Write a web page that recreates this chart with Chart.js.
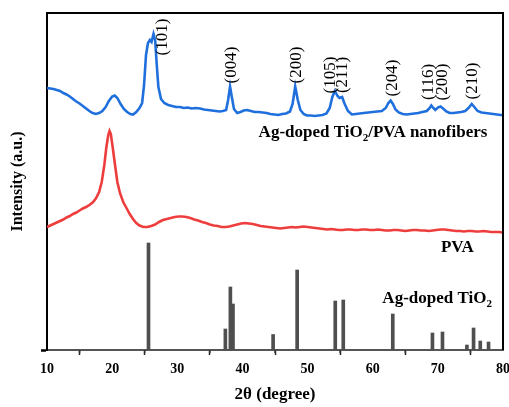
<!DOCTYPE html>
<html>
<head>
<meta charset="utf-8">
<script src="https://cdn.jsdelivr.net/npm/chart.js@4.4.1/dist/chart.umd.min.js"></script>
<style>
  html, body { margin: 0; padding: 0; background: #fff; }
  canvas { display: block; }
</style>
</head>
<body>
<canvas id="xrd" width="509" height="407"></canvas>
<script>
// XRD patterns (2θ in degrees, intensity in stacked arbitrary units)
const compositeTheta = [
  10.0, 10.5, 11.0, 11.5, 12.0, 12.5, 13.0, 13.5, 14.0, 14.5, 15.0, 15.5, 16.0, 16.5, 17.0, 17.5,
  18.0, 18.5, 19.0, 19.5, 20.0, 20.4, 20.8, 21.3, 21.8, 22.3, 22.8, 23.2, 23.7, 24.2, 24.6, 24.9,
  25.2, 25.5, 25.8, 26.05, 26.35, 26.6, 26.85, 27.1, 27.5, 28.0, 28.6, 29.2, 29.8, 30.4, 31.0, 31.6,
  32.2, 32.8, 33.5, 34.1, 34.7, 35.3, 35.9, 36.5, 37.0, 37.5, 37.8, 38.1, 38.4, 38.7, 39.2, 39.7,
  40.2, 40.7, 41.3, 41.9, 42.5, 43.1, 43.7, 44.3, 44.9, 45.5, 46.1, 46.7, 47.3, 47.7, 48.1, 48.5,
  48.9, 49.4, 49.9, 50.5, 51.1, 51.7, 52.3, 52.9, 53.4, 53.8, 54.2, 54.6, 54.9, 55.3, 55.7, 56.2,
  56.8, 57.4, 58.0, 58.6, 59.3, 60.0, 60.7, 61.4, 62.0, 62.4, 62.75, 63.1, 63.5, 64.0, 64.6, 65.2,
  65.8, 66.4, 67.0, 67.6, 68.3, 68.75, 69.0, 69.3, 69.6, 70.0, 70.4, 70.8, 71.3, 71.8, 72.4, 73.0,
  73.6, 74.2, 74.7, 75.2, 75.6, 76.1, 76.7, 77.3, 77.9, 78.5, 79.1, 79.6, 80.0
];
const compositeIntensity = [
  262, 261.5, 261, 260, 259, 257, 255.5, 253.5, 251, 248.5, 246.5, 244, 241.5, 239, 237, 236,
  237, 239, 243, 249, 253.5, 254.5, 252, 246, 241, 238, 236, 235.5, 238, 242, 247, 265,
  295, 307, 310, 308, 316, 310, 285, 263, 251, 247, 245, 244, 243, 243, 242, 242.5,
  241.5, 242, 241.5, 240.5, 240, 239.5, 239, 238.5, 239, 240, 250, 263.5, 252, 241, 237, 238,
  239.5, 240, 239, 238, 238, 237.5, 237, 236, 235.5, 235, 236, 236.5, 238.5, 246, 263.5, 250,
  240, 236, 234.5, 234.5, 234, 234.5, 235, 236.5, 242, 253, 259, 254, 252, 253, 246, 239,
  235.5, 236, 236.5, 237, 237.5, 238, 238.5, 239, 242, 247, 249.5, 246, 240.5, 237.5, 236, 235.5,
  236, 236.5, 237, 238, 239, 242, 244.5, 242, 240, 242.5, 243.5, 241.5, 238.5, 237, 237, 237.5,
  238, 239, 242, 246, 243, 239, 237.5, 237, 236.5, 236, 235.5, 235, 235
];

const pvaTheta = [
  10.0, 10.5, 11.0, 11.5, 12.0, 12.5, 13.0, 13.5, 14.0, 14.5, 15.0, 15.5, 16.0, 16.5, 17.0, 17.5,
  18.0, 18.4, 18.8, 19.1, 19.4, 19.6, 19.8, 20.1, 20.4, 20.8, 21.2, 21.7, 22.2, 22.7, 23.2, 23.7,
  24.2, 24.8, 25.4, 26.0, 26.6, 27.2, 27.8, 28.4, 29.0, 29.6, 30.2, 30.8, 31.4, 32.0, 32.6, 33.2,
  33.8, 34.4, 35.0, 35.6, 36.2, 36.8, 37.4, 38.0, 38.6, 39.2, 39.8, 40.4, 41.0, 41.6, 42.2, 42.8,
  43.4, 44.0, 44.6, 45.2, 45.8, 46.4, 47.0, 47.6, 48.2, 48.8, 49.4, 50.0, 50.6, 51.2, 51.8, 52.4,
  53.0, 53.6, 54.2, 54.8, 55.4, 56.0, 56.6, 57.2, 57.8, 58.4, 59.0, 59.6, 60.2, 60.8, 61.4, 62.0,
  62.6, 63.2, 63.8, 64.4, 65.0, 65.6, 66.2, 66.8, 67.4, 68.0, 68.6, 69.2, 69.8, 70.4, 71.0, 71.6,
  72.2, 72.8, 73.4, 74.0, 74.6, 75.2, 75.8, 76.4, 77.0, 77.6, 78.2, 78.8, 79.4, 80.0
];
const pvaIntensity = [
  123, 124.5, 126, 127.5, 129, 130.5, 132.5, 134, 136, 137.5, 139.5, 141.5, 143, 145, 147.5, 151.5,
  158, 168, 185, 202, 215, 219, 216, 202, 187, 168, 157, 148, 142, 136, 131, 127,
  124.5, 123, 123, 124, 125.5, 128, 130, 131, 132, 133, 133.5, 133.5, 133, 132, 130.5, 129.5,
  128, 127, 125.5, 124.5, 124, 123, 123, 123.5, 124.5, 125.5, 126.5, 127, 126.5, 126, 125, 124,
  123.5, 123, 122.5, 122, 121.5, 122, 122.5, 123, 122.5, 123, 123.5, 123, 122.5, 122, 121.5, 121,
  120.5, 121, 120.5, 120, 120, 120.5, 120.5, 120, 120, 120.5, 120.5, 120, 120, 120.5, 120, 119.5,
  119.5, 120, 120, 119.5, 119, 119.5, 120, 120, 119.5, 119.5, 119, 119.5, 120, 120.5, 120.5, 120,
  119.5, 119, 119, 118.5, 119, 119, 118.5, 118.5, 119, 118.5, 118, 118, 118, 117.5
];

// Reference stick pattern
const refTheta = [25.58, 37.38, 38.15, 38.55, 44.71, 48.4, 54.25, 55.48, 63.08, 69.17, 70.71, 74.46, 75.48, 76.51, 77.78];
const refIntensity = [107, 21, 63, 46, 15.5, 80, 49, 50, 36, 17, 18, 5, 22, 9, 8];

const xTickValues = [10, 20, 30, 40, 50, 60, 70, 80];
const minorTickValues = [15, 25, 35, 45, 55, 65, 75];

// Miller indices and where they are written (2θ, intensity of the label centre)
const peakLabels = ['(101)', '(004)', '(200)', '(105)', '(211)', '(204)', '(116)', '(200)', '(210)'];
const peakLabelTheta = [27.77, 38.38, 48.23, 53.46, 55.3, 63.0, 68.54, 70.7, 75.3];
const peakLabelLevel = [313, 285, 285, 275, 275, 272, 268, 268, 269];

const SERIF = "'Liberation Serif', 'Times New Roman', Times, serif";
const BLUE = '#1f6fdc';
const RED = '#ee3d3d';
const STICK = '#4f4f4f';

const toPoints = (xs, ys) => xs.map((x, i) => ({ x: x, y: ys[i] }));

// Draws text that may contain subscript pieces
function richWidth(ctx, parts, size) {
  let w = 0;
  for (const p of parts) {
    ctx.font = `bold ${p.sub ? Math.round(size * 0.65) : size}px ${SERIF}`;
    w += ctx.measureText(p.t).width;
  }
  return w;
}
function drawRich(ctx, parts, size, rightX, midY) {
  let x = rightX - richWidth(ctx, parts, size);
  ctx.textAlign = 'left';
  ctx.textBaseline = 'middle';
  for (const p of parts) {
    ctx.font = `bold ${p.sub ? Math.round(size * 0.65) : size}px ${SERIF}`;
    ctx.fillText(p.t, x, p.sub ? midY + size * 0.32 : midY);
    x += ctx.measureText(p.t).width;
  }
}

const seriesNames = [
  { parts: [{ t: 'Ag-doped TiO' }, { t: '2', sub: true }, { t: '/PVA nanofibers' }], theta: 77.6, level: 217 },
  { parts: [{ t: 'PVA' }], theta: 75.5, level: 102 },
  { parts: [{ t: 'Ag-doped TiO' }, { t: '2', sub: true }], theta: 78.3, level: 51.5 }
];

const framePlugin = {
  id: 'frame',
  afterDraw(chart) {
    const { ctx, chartArea: a, scales } = chart;
    ctx.save();
    // top and right edges of the frame
    ctx.strokeStyle = '#000';
    ctx.lineWidth = 2;
    ctx.beginPath();
    ctx.moveTo(a.left - 1, a.top);
    ctx.lineTo(a.right, a.top);
    ctx.lineTo(a.right, a.bottom);
    ctx.stroke();
    // minor ticks on the 2θ axis
    ctx.strokeStyle = '#333';
    ctx.lineWidth = 1.5;
    for (const v of minorTickValues) {
      const px = scales.x.getPixelForValue(v);
      ctx.beginPath();
      ctx.moveTo(px, a.bottom);
      ctx.lineTo(px, a.bottom + 3);
      ctx.stroke();
    }
    ctx.restore();
  }
};

const labelPlugin = {
  id: 'labels',
  afterDatasetsDraw(chart) {
    const { ctx, scales } = chart;
    ctx.save();
    ctx.fillStyle = '#000';
    ctx.font = `17px ${SERIF}`;
    ctx.textAlign = 'center';
    ctx.textBaseline = 'middle';
    peakLabels.forEach((txt, i) => {
      const px = scales.x.getPixelForValue(peakLabelTheta[i]);
      const py = scales.y.getPixelForValue(peakLabelLevel[i]);
      ctx.save();
      ctx.translate(px, py);
      ctx.rotate(-Math.PI / 2);
      ctx.fillText(txt, 0, 0);
      ctx.restore();
    });
    for (const s of seriesNames) {
      drawRich(ctx, s.parts, 17, scales.x.getPixelForValue(s.theta), scales.y.getPixelForValue(s.level));
    }
    ctx.restore();
  }
};

new Chart(document.getElementById('xrd'), {
  type: 'scatter',
  data: {
    datasets: [
      {
        type: 'line',
        label: 'Ag-doped TiO2/PVA nanofibers',
        data: toPoints(compositeTheta, compositeIntensity),
        borderColor: BLUE,
        borderWidth: 2.6,
        pointRadius: 0,
        tension: 0,
        fill: false
      },
      {
        type: 'line',
        label: 'PVA',
        data: toPoints(pvaTheta, pvaIntensity),
        borderColor: RED,
        borderWidth: 2.6,
        pointRadius: 0,
        tension: 0,
        fill: false
      },
      {
        type: 'bar',
        label: 'Ag-doped TiO2',
        data: toPoints(refTheta, refIntensity),
        backgroundColor: STICK,
        borderWidth: 0,
        barThickness: 3,
        grouped: false
      }
    ]
  },
  options: {
    responsive: false,
    animation: false,
    layout: { padding: { top: 13, right: 6, left: 0, bottom: 0 } },
    plugins: { legend: { display: false }, tooltip: { enabled: false } },
    scales: {
      x: {
        type: 'linear',
        min: 10,
        max: 80,
        offset: false,
        afterBuildTicks(scale) { scale.ticks = xTickValues.map(v => ({ value: v })); },
        ticks: {
          color: '#000',
          padding: 6,
          maxRotation: 0,
          autoSkip: false,
          font: { family: SERIF, size: 14, weight: 'bold' }
        },
        grid: { drawOnChartArea: false, drawTicks: true, tickLength: 5, tickColor: '#222', tickWidth: 1.5 },
        border: { display: true, color: '#555', width: 2 },
        title: {
          display: true,
          text: '2θ (degree)',
          color: '#000',
          font: { family: SERIF, size: 17, weight: 'bold' },
          padding: { top: 0, bottom: 2 }
        },
        afterFit(scale) {
          scale.height = 57;
          scale.paddingLeft = 0;
          scale.paddingRight = 0;
        }
      },
      y: {
        type: 'linear',
        min: 0,
        max: 337,
        afterBuildTicks(scale) { scale.ticks = [{ value: 0 }]; },
        ticks: { callback: () => '', padding: 0 },
        grid: { drawOnChartArea: false, drawTicks: true, tickLength: 6, tickColor: '#000', tickWidth: 2.5 },
        border: { display: true, color: '#000', width: 2 },
        title: {
          display: true,
          text: 'Intensity (a.u.)',
          color: '#000',
          font: { family: SERIF, size: 16, weight: 'bold' },
          padding: { top: 8, bottom: 0 }
        },
        afterFit(scale) {
          scale.width = 47;
          scale.paddingTop = 0;
          scale.paddingBottom = 0;
        }
      }
    }
  },
  plugins: [framePlugin, labelPlugin]
});
</script>
</body>
</html>
